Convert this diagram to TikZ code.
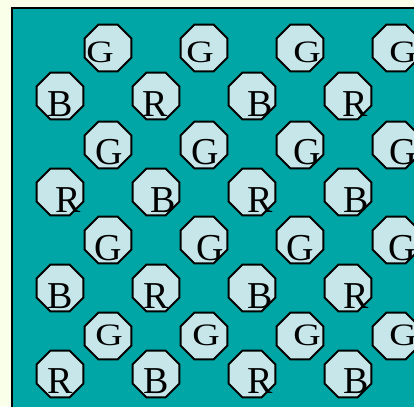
\documentclass[tikz,border=0pt]{standalone}
\usepackage{fontspec}
\setmainfont{Liberation Serif}
\usepackage{xcolor}
\usepackage{tikz}
\usetikzlibrary{shapes.geometric}

\definecolor{creambg}{HTML}{FAFFEA}
\definecolor{tealbg}{HTML}{00A6A6}
\definecolor{octfill}{HTML}{C6E6E9}

\begin{document}
\begin{tikzpicture}[x=1pt, y=-1pt,
  oct/.style={regular polygon, regular polygon sides=8, minimum size=50.5pt, inner sep=0pt,
    draw=black, line width=2pt, fill=octfill},
  ltr/.style={anchor=base, inner sep=0pt, font=\fontsize{38}{40}\selectfont},
  squat/.style={yscale=.82}]
  \useasboundingbox (0,0) rectangle (414,406);
  \clip (0,0) rectangle (414,406);
  \fill[creambg] (0,0) rectangle (414,406);
  \filldraw[fill=tealbg, draw=black, line width=1.4pt] (12,8) rectangle (440,440);
  % row 1
  \node[oct] (c11) at (108,48) {}; \node[ltr, squat] (l11) at ([shift={(-8,15)}]c11.center) {G};
  \node[oct] (c12) at (204,48) {}; \node[ltr, squat] (l12) at ([shift={(-4,15)}]c12.center) {G};
  \node[oct] (c13) at (300,48) {}; \node[ltr, squat] (l13) at ([shift={(7,15)}]c13.center) {G};
  \node[oct] (c14) at (396,48) {}; \node[ltr, squat] (l14) at ([shift={(7,15)}]c14.center) {G};
  % row 2
  \node[oct] (c21) at (60,96) {};  \node[ltr] (l21) at ([shift={(0,21)}]c21.center) {B};
  \node[oct] (c22) at (156,96) {}; \node[ltr] (l22) at ([shift={(-1,21)}]c22.center) {R};
  \node[oct] (c23) at (252,96) {}; \node[ltr] (l23) at ([shift={(8,21)}]c23.center) {B};
  \node[oct] (c24) at (348,96) {}; \node[ltr] (l24) at ([shift={(7,21)}]c24.center) {R};
  % row 3
  \node[oct] (c31) at (108,145) {}; \node[ltr] (l31) at ([shift={(1,19)}]c31.center) {G};
  \node[oct] (c32) at (204,145) {}; \node[ltr] (l32) at ([shift={(1,19)}]c32.center) {G};
  \node[oct] (c33) at (300,145) {}; \node[ltr] (l33) at ([shift={(7,19)}]c33.center) {G};
  \node[oct] (c34) at (396,145) {}; \node[ltr] (l34) at ([shift={(7,19)}]c34.center) {G};
  % row 4
  \node[oct] (c41) at (60,192) {};  \node[ltr] (l41) at ([shift={(8,20)}]c41.center) {R};
  \node[oct] (c42) at (156,192) {}; \node[ltr] (l42) at ([shift={(7,20)}]c42.center) {B};
  \node[oct] (c43) at (252,192) {}; \node[ltr] (l43) at ([shift={(8,20)}]c43.center) {R};
  \node[oct] (c44) at (348,192) {}; \node[ltr] (l44) at ([shift={(8,20)}]c44.center) {B};
  % row 5
  \node[oct] (c51) at (108,240) {}; \node[ltr] (l51) at ([shift={(0,20)}]c51.center) {G};
  \node[oct] (c52) at (204,240) {}; \node[ltr] (l52) at ([shift={(6,20)}]c52.center) {G};
  \node[oct] (c53) at (300,240) {}; \node[ltr] (l53) at ([shift={(0,20)}]c53.center) {G};
  \node[oct] (c54) at (396,240) {}; \node[ltr] (l54) at ([shift={(6,20)}]c54.center) {G};
  % row 6
  \node[oct] (c61) at (60,288) {};  \node[ltr] (l61) at ([shift={(0,20)}]c61.center) {B};
  \node[oct] (c62) at (156,288) {}; \node[ltr] (l62) at ([shift={(0,20)}]c62.center) {R};
  \node[oct] (c63) at (252,288) {}; \node[ltr] (l63) at ([shift={(8,20)}]c63.center) {B};
  \node[oct] (c64) at (348,288) {}; \node[ltr] (l64) at ([shift={(8,20)}]c64.center) {R};
  % row 7
  \node[oct] (c71) at (108,336) {}; \node[ltr, squat] (l71) at ([shift={(1,9)}]c71.center) {G};
  \node[oct] (c72) at (204,336) {}; \node[ltr, squat] (l72) at ([shift={(2,9)}]c72.center) {G};
  \node[oct] (c73) at (300,336) {}; \node[ltr, squat] (l73) at ([shift={(7,9)}]c73.center) {G};
  \node[oct] (c74) at (396,336) {}; \node[ltr, squat] (l74) at ([shift={(7,9)}]c74.center) {G};
  % row 8
  \node[oct] (c81) at (60,374) {};  \node[ltr] (l81) at ([shift={(0,19)}]c81.center) {R};
  \node[oct] (c82) at (156,374) {}; \node[ltr] (l82) at ([shift={(0,19)}]c82.center) {B};
  \node[oct] (c83) at (252,374) {}; \node[ltr] (l83) at ([shift={(8,19)}]c83.center) {R};
  \node[oct] (c84) at (348,374) {}; \node[ltr] (l84) at ([shift={(8,19)}]c84.center) {B};
\end{tikzpicture}
\end{document}
